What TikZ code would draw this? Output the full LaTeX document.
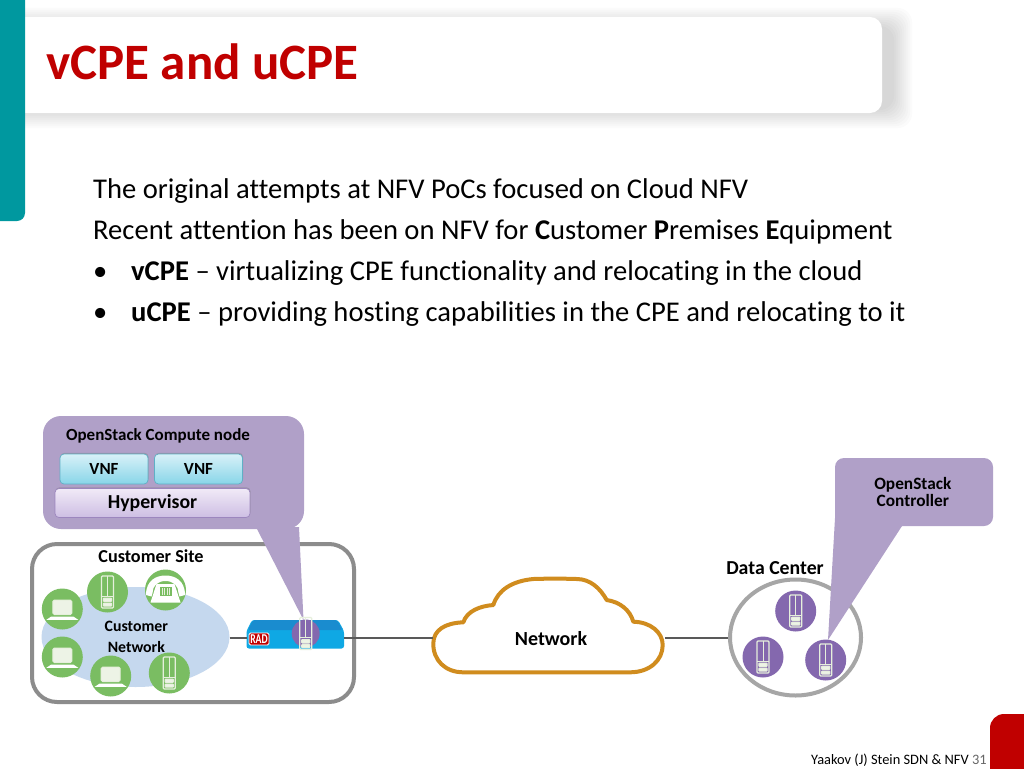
\documentclass[tikz,border=0pt]{standalone}
\usepackage{fontspec}
\setmainfont[Ligatures=NoCommon]{Carlito}
\usetikzlibrary{shadows,calc,shapes.geometric}
\definecolor{teal1}{HTML}{00989F}
\definecolor{red1}{HTML}{C00000}
\definecolor{callout}{HTML}{B0A0C8}
\definecolor{netblue}{HTML}{C5D8EE}
\definecolor{devgreen}{HTML}{7ABD62}
\definecolor{devpurple}{HTML}{8468AE}
\definecolor{sitegray}{HTML}{8C8C8C}
\definecolor{dcgray}{HTML}{A6A6A6}
\definecolor{linegray}{HTML}{595959}
\definecolor{cloudor}{HTML}{D08C1E}
\definecolor{radblue}{HTML}{0FA8E4}
\definecolor{radtop}{HTML}{1A8CCF}
\definecolor{iconfill}{HTML}{EDF3E6}
\definecolor{iconline}{HTML}{E6EFDC}
\definecolor{vnftop}{HTML}{D8F1F8}
\definecolor{vnfbot}{HTML}{88D5E8}
\definecolor{vnfline}{HTML}{5FB0C6}
\definecolor{hyptop}{HTML}{F1EAF7}
\definecolor{hypbot}{HTML}{CDBEE3}
\definecolor{hypline}{HTML}{9C86BE}
\tikzset{
  x=1pt,y=-1pt,
  lbl/.style={inner sep=0pt,font=\fontsize{18.2}{20}\selectfont\bfseries,text=black,align=center},
  small/.style={inner sep=0pt,font=\fontsize{15.8}{21}\selectfont\bfseries,text=black,align=center},
  body/.style={anchor=base west,inner sep=0pt,font=\fontsize{28.6}{30}\selectfont,text=black},
  region/.style={inner sep=0pt,rounded corners=#1},
  vnfbox/.style={rounded corners=4,top color=vnftop,bottom color=vnfbot,draw=vnfline,line width=.7,drop shadow={shadow xshift=.5,shadow yshift=-1.2,opacity=.45},minimum width=88,minimum height=30,inner sep=0pt,font=\fontsize{17}{18}\selectfont\bfseries},
  hyperbox/.style={rounded corners=4,top color=hyptop,bottom color=hypbot,draw=hypline,line width=.7,drop shadow={shadow xshift=.5,shadow yshift=-1.2,opacity=.45},minimum width=195,minimum height=29,inner sep=0pt,font=\fontsize{19.8}{20}\selectfont\bfseries},
  dev/.style={circle,inner sep=0pt,minimum size=41,fill=devgreen},
  devp/.style={circle,inner sep=0pt,minimum size=41,fill=devpurple},
  link/.style={draw=linegray,line width=2},
  pics/servericon/.style={code={
    \draw[iconline,line width=1.2,rounded corners=1] (-6,-16) rectangle (6,16);
    \draw[iconline,line width=1] (0,-16) -- (0,4);
    \draw[iconline,line width=1] (-6,4) -- (6,4);
    \draw[iconline,line width=1,fill=iconfill,rounded corners=.8] (-4.2,6) rectangle (4.2,9.5);
    \draw[iconline,line width=1,fill=iconfill,rounded corners=.8] (-4.2,11) rectangle (4.2,14.2);
  }},
  pics/laptopicon/.style={code={
    \draw[iconline,line width=1,fill=iconfill,rounded corners=1.5] (-9.5,-9) rectangle (9.5,5.5);
    \fill[white] (-11,7.5) -- (11,7.5) -- (16,10.8) -- (-16,10.8) -- cycle;
  }},
  pics/phoneicon/.style={code={
    \fill[white] (-19.5,5) .. controls (-19.5,-10) and (-9,-14.5) .. (0,-14.5) .. controls (9,-14.5) and (19.5,-10) .. (19.5,5) -- (14,6.5) -- (13,3) .. controls (13,-4) and (8,-9) .. (0,-9) .. controls (-8,-9) and (-13,-4) .. (-13,3) -- (-14,6.5) -- cycle;
    \fill[white] (-9,-6) -- (9,-6) -- (15,12.5) -- (-15,12.5) -- cycle;
    \fill[devgreen] (-6,-3.5) rectangle (6,6);
    \foreach \k in {-3.5,-1,1.5,4} \draw[iconline,line width=1] (\k,-2) -- (\k,5);
  }},
}
\begin{document}
\begin{tikzpicture}
\useasboundingbox (0,0) rectangle (1024,768);
\fill[white] (0,0) rectangle (1024,768);
% title band shadow
\foreach \g in {20,18,16,14,12,10,8,6,4,2}
  \fill[black,opacity=.016,rounded corners=14] (20-\g,28-\g) rectangle (892+\g,108+\g);
\node[fill=white,region=12,minimum width=870,minimum height=96] (band) at (447,65) {};
% teal tab
\fill[teal1,rounded corners=8] (-20,-20) rectangle (25,221);
% red corner
\fill[red1,rounded corners=14] (990,714) rectangle (1050,800);
\node[anchor=base west,inner sep=0pt,font=\fontsize{51}{54}\selectfont\bfseries,text=red1] (title) at (46,79) {vCPE and uCPE};
\node[body] (l1) at (93,198.5) {The original attempts at NFV PoCs focused on Cloud NFV};
\node[body] (l2) at (93,239.5) {Recent attention has been on NFV for \textbf{C}ustomer \textbf{P}remises \textbf{E}quipment};
\node[body] (b3) at (93,280.5) {•};
\node[body] (l3) at (131,280.5) {\textbf{vCPE} – virtualizing CPE functionality and relocating in the cloud};
\node[body] (b4) at (93,321.5) {•};
\node[body] (l4) at (131,321.5) {\textbf{uCPE} – providing hosting capabilities in the CPE and relocating to it};
% customer site
\node[draw=sitegray,line width=4,region=25,minimum width=322,minimum height=158] (site) at (193,623) {};
\node[ellipse,fill=netblue,inner sep=0pt,minimum width=188,minimum height=100] (custnet) at (135.5,637) {};
\node[lbl] (sitelbl) at (151,556) {Customer Site};
\node[small] (netlbl) at (136.3,636.5) {Customer\\Network};
\node[dev] (d1) at (107.5,592) {}; \pic at (d1) {servericon};
\node[dev] (d2) at (165.5,590) {}; \pic at (d2) {phoneicon};
\node[dev] (d3) at (62.3,609) {}; \pic at (d3) {laptopicon};
\node[dev] (d4) at (62.3,657) {}; \pic at (d4) {laptopicon};
\node[dev] (d5) at (110.7,676) {}; \pic at (d5) {laptopicon};
\node[dev] (d6) at (169.3,673) {}; \pic at (d6) {servericon};
% RAD device
\node[inner sep=0pt,minimum width=97,minimum height=28] (rad) at (295.3,634) {};
\fill[radblue,rounded corners=2.5] (246.5,631) -- (252,620) -- (338,620) -- (344,631) -- (344,648.5) -- (246.5,648.5) -- cycle;
\fill[radtop,rounded corners=2] (248,630) -- (253,620) -- (337,620) -- (342.5,630) -- cycle;
\node[fill=red1,draw=white,line width=.9,rounded corners=1.5,inner sep=0pt,minimum width=20,minimum height=12,text=white,font=\fontsize{13.5}{13}\selectfont\bfseries] (radlbl) at (259,639) {\scalebox{.72}[1]{RAD}};
% cloud
\node[inner sep=0pt,minimum width=232,minimum height=94] (cloud) at (549,626) {};
\draw[cloudor,line width=4,fill=white,line join=round]
 (433.3,643.3) .. controls (433,660) and (445,672.3) .. (463.3,672.3)
 -- (630,672.3) .. controls (650,672.3) and (662.7,660) .. (662.7,645)
 .. controls (662.7,632) and (650,622) .. (633.3,621.7)
 .. controls (630,610) and (620,602) .. (606.7,600)
 .. controls (600,588) and (590,579) .. (576.7,579)
 .. controls (560,578.5) and (550,578.5) .. (533.3,579)
 .. controls (512,581) and (498,590) .. (493.3,605)
 .. controls (480,606) and (467,611) .. (463.3,622.3)
 .. controls (445,623) and (433.5,630) .. (433.3,643.3) -- cycle;
\node[lbl,font=\fontsize{20}{22}\selectfont\bfseries] (cloudlbl) at (551,638.5) {Network};
% data center
\node[ellipse,draw=dcgray,line width=4,inner sep=0pt,minimum width=131,minimum height=116] (dc) at (795.5,637.5) {};
\node[lbl,font=\fontsize{19.8}{22}\selectfont\bfseries] (dclbl) at (775,568) {Data Center};
\node[devp] (s1) at (795.7,611) {}; \pic at (s1) {servericon};
\node[devp] (s2) at (763,657) {}; \pic at (s2) {servericon};
\node[devp] (s3) at (825.7,660) {}; \pic at (s3) {servericon};
% links
\coordinate (custedge) at (custnet.east);
\path (custedge) ++(0,1) coordinate (custpt);
\draw[link] (custpt) -- (custpt -| rad.west);
\draw[link] (rad.east |- custpt) -- (custpt -| cloud.west);
\draw[link] (custpt -| cloud.east) -- (custpt -| dc.west);
% callouts
\fill[callout,rounded corners=18] (43,416) rectangle (304,529);
\fill[callout] (256,527) -- (299,527) -- (303.5,620) -- cycle;
\node[inner sep=0pt,minimum width=261,minimum height=113] (comp) at (173.5,472.5) {};
\node[small,font=\fontsize{17}{19}\selectfont\bfseries] (complbl) at (158,435.5) {OpenStack Compute node};
\node[vnfbox] (vnf1) at (104,469) {VNF};
\node[vnfbox] (vnf2) at (198.5,469) {VNF};
\node[hyperbox] (hyp) at (152.5,503) {\raisebox{-1.5pt}{Hypervisor}};
\fill[callout,rounded corners=9] (835,458) rectangle (993,526);
\fill[callout] (835,518) -- (902,526) -- (828,640) -- cycle;
\fill[callout] (835,518) -- (850,526) -- (902,526) -- cycle;
\node[inner sep=0pt,minimum width=158,minimum height=68] (ctrl) at (914,492) {};
\node[small,font=\fontsize{17.3}{17.5}\selectfont\bfseries] (ctrllbl) at (912.8,492) {OpenStack\\Controller};
% purple device on RAD
\node[circle,inner sep=0pt,minimum size=28,fill=devpurple] (onrad) at (305.7,633.5) {};
\begin{scope}[shift={(onrad.center)},scale=.68] \pic {servericon}; \end{scope}
% footer
\node[anchor=base west,inner sep=0pt,font=\fontsize{14.4}{15}\selectfont] (foot) at (811,764) {Yaakov (J) Stein SDN \& NFV \textcolor{black!60}{31}};
\end{tikzpicture}
\end{document}
